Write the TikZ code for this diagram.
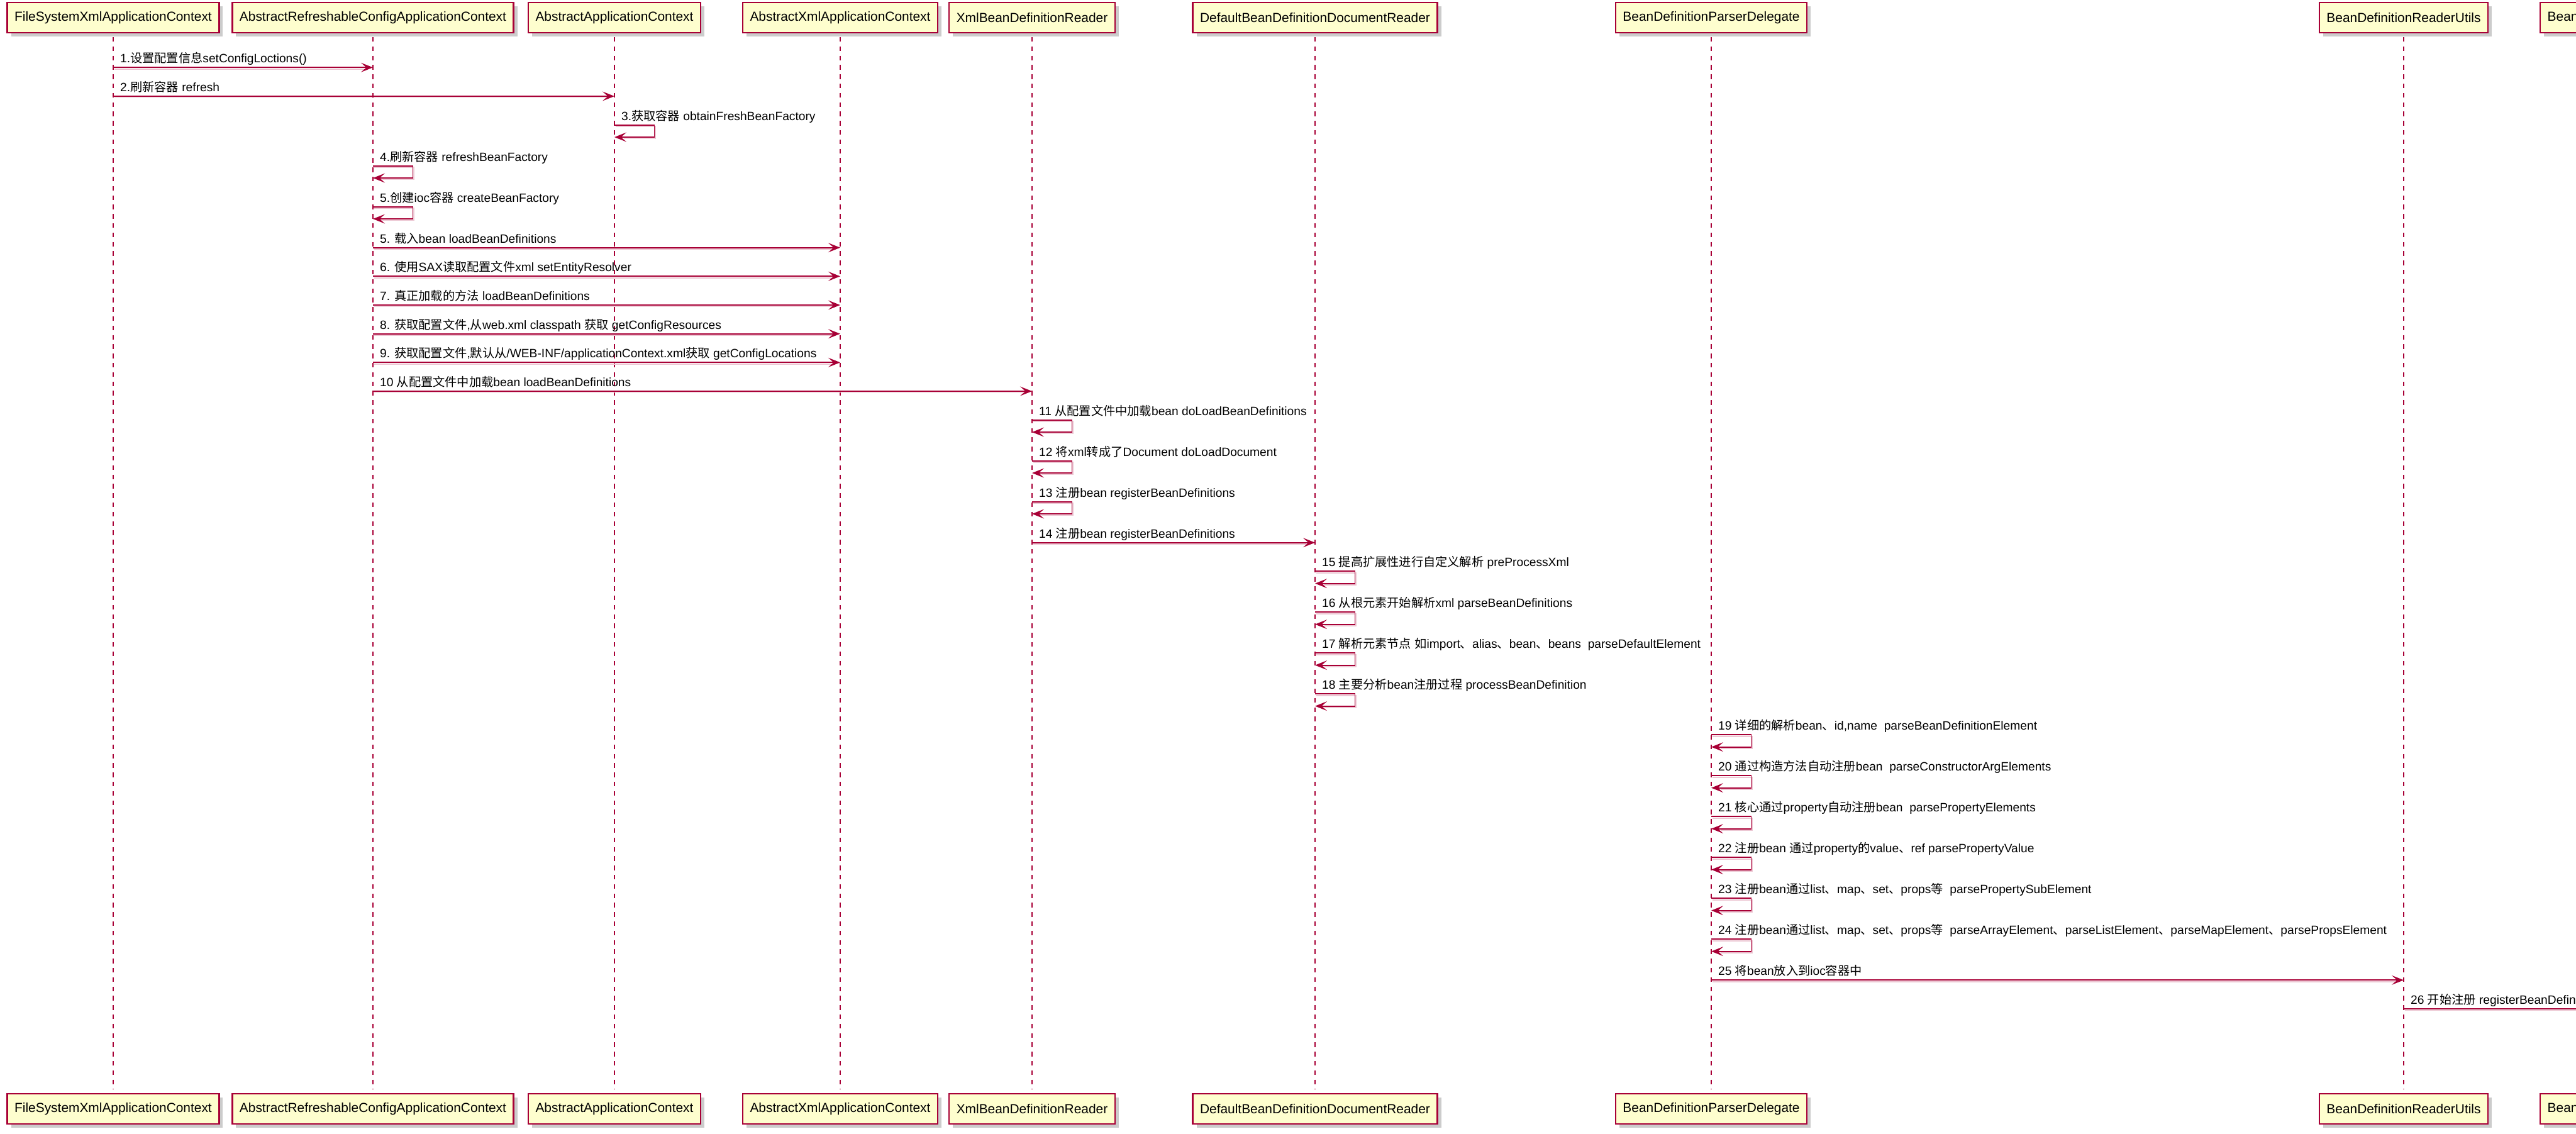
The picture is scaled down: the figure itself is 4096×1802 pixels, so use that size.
\documentclass[tikz,border=0pt]{standalone}
\usepackage{fontspec}
\setmainfont{Liberation Sans}
\newfontfamily\cjk{Noto Sans CJK SC}
\usetikzlibrary{arrows.meta,shadows}
\makeatletter
\newXeTeXintercharclass\mycjkclass
\count@="3000
\loop
  \XeTeXcharclass\count@=\mycjkclass
  \ifnum\count@<"9FFF \advance\count@\@ne
\repeat
\count@="FF00
\loop
  \XeTeXcharclass\count@=\mycjkclass
  \ifnum\count@<"FFEF \advance\count@\@ne
\repeat
\XeTeXinterchartoks 0 \mycjkclass={\cjk}
\XeTeXinterchartoks \e@alloc@intercharclass@top \mycjkclass={\cjk}
\XeTeXinterchartoks \mycjkclass 0={\normalfont}
\XeTeXinterchartoks \mycjkclass \e@alloc@intercharclass@top={\normalfont}
\makeatother
\XeTeXinterchartokenstate=1
\definecolor{pu}{HTML}{A80036}
\definecolor{pbox}{HTML}{FEFECE}
\tikzset{
  part/.style={draw=pu, fill=pbox, line width=2.4pt, minimum height=48pt,
    inner xsep=11.5pt, inner ysep=0pt, font=\fontsize{20.9}{24}\selectfont,
    drop shadow={shadow xshift=6pt, shadow yshift=-6pt, fill=black, opacity=0.2}},
  life/.style={draw=pu, line width=1.7pt, dash pattern=on 7.4pt off 7.4pt},
  msg/.style={draw=pu, line width=1.9pt, -{Stealth[length=19pt,width=15pt,inset=8.5pt]}},
  msgshadow/.style={draw=pu!22, line width=1.5pt},
  lbl/.style={anchor=base west, inner sep=0pt, font=\fontsize{19.2}{23}\selectfont},
}
\newcommand\strmsg[5]{% name, from, to, y, label
  \draw[msgshadow] ([shift={(1.5,2.5)}]#2 |- 0,#4) -- ([shift={(-14,2.5)}]#3 |- 0,#4);
  \draw[msg] (#2 |- 0,#4) -- (#3 |- 0,#4);
  \path (#2 |- 0,#4) ++(11,-7.5) node[lbl] (#1) {#5};
}
\newcommand\loopmsg[4]{% name, lifeline, ytop, label
  \draw[msgshadow] ([shift={(1.5,2.5)}]#2 |- 0,#3) -- ++(63.5,0) -- ++(0,19.33) -- ++(-50,0);
  \draw[msg] (#2 |- 0,#3) -- ++(63.5,0) -- ++(0,19.33) -- ++(-63.5,0);
  \path (#2 |- 0,#3) ++(11,-7.5) node[lbl] (#1) {#4};
}
\begin{document}
\begin{tikzpicture}[x=1pt,y=-1pt]
\useasboundingbox (0,0) rectangle (4096,1802);
\clip (0,0) rectangle (4096,1802);
\fill[white] (0,0) rectangle (4096,1802);
% participants
\foreach \n/\x in {1/180,2/593,3/977,4/1336,5/1641,6/2091,7/2721,8/3822}{
  \coordinate (c\n t) at (\x,28);
  \coordinate (c\n b) at (\x,1763);
}
\foreach \n/\t in {1/FileSystemXmlApplicationContext,
  2/AbstractRefreshableConfigApplicationContext,
  3/AbstractApplicationContext,
  4/AbstractXmlApplicationContext,
  5/XmlBeanDefinitionReader,
  6/DefaultBeanDefinitionDocumentReader,
  7/BeanDefinitionParserDelegate,
  8/BeanDefinitionReaderUtils}{
  \draw[life] (c\n t |- 0,59) -- (c\n b |- 0,1732);
  \node[part] (p\n t) at (c\n t) {\t};
  \node[part] (p\n b) at (c\n b) {\t};
}
\node[part, anchor=west] (p9t) at (4038,28) {BeanDefinitionRegistry};
\node[part, anchor=west] (p9b) at (4038,1763) {BeanDefinitionRegistry};
\draw[life] (p9t |- 0,59) -- (p9b |- 0,1732);
% messages
\strmsg{m1}{p1t}{p2t}{107.3}{1.设置配置信息setConfigLoctions()}
\strmsg{m2}{p1t}{p3t}{153.0}{2.刷新容器 refresh}
\loopmsg{m3}{p3t}{198.7}{3.获取容器 obtainFreshBeanFactory}
\loopmsg{m4}{p2t}{263.7}{4.刷新容器 refreshBeanFactory}
\loopmsg{m5}{p2t}{328.7}{5.创建ioc容器 createBeanFactory}
\strmsg{m5b}{p2t}{p4t}{393.7}{5. 载入bean loadBeanDefinitions}
\strmsg{m6}{p2t}{p4t}{439.3}{6. 使用SAX读取配置文件xml setEntityResolver}
\strmsg{m7}{p2t}{p4t}{485.0}{7. 真正加载的方法 loadBeanDefinitions}
\strmsg{m8}{p2t}{p4t}{530.7}{8. 获取配置文件,从web.xml classpath 获取 getConfigResources}
\strmsg{m9}{p2t}{p4t}{576.3}{9. 获取配置文件,默认从/WEB-INF/applicationContext.xml获取 getConfigLocations}
\strmsg{m10}{p2t}{p5t}{622.0}{10 从配置文件中加载bean loadBeanDefinitions}
\loopmsg{m11}{p5t}{667.7}{11 从配置文件中加载bean doLoadBeanDefinitions}
\loopmsg{m12}{p5t}{732.7}{12 将xml转成了Document doLoadDocument}
\loopmsg{m13}{p5t}{797.7}{13 注册bean registerBeanDefinitions}
\strmsg{m14}{p5t}{p6t}{862.7}{14 注册bean registerBeanDefinitions}
\loopmsg{m15}{p6t}{908.3}{15 提高扩展性进行自定义解析 preProcessXml}
\loopmsg{m16}{p6t}{973.3}{16 从根元素开始解析xml parseBeanDefinitions}
\loopmsg{m17}{p6t}{1038.3}{17 解析元素节点 如import、alias、bean、beans\ \ parseDefaultElement}
\loopmsg{m18}{p6t}{1103.3}{18 主要分析bean注册过程 processBeanDefinition}
\loopmsg{m19}{p7t}{1168.3}{19 详细的解析bean、id,name\ \ parseBeanDefinitionElement}
\loopmsg{m20}{p7t}{1233.3}{20 通过构造方法自动注册bean\ \ parseConstructorArgElements}
\loopmsg{m21}{p7t}{1298.3}{21 核心通过property自动注册bean\ \ parsePropertyElements}
\loopmsg{m22}{p7t}{1363.3}{22 注册bean 通过property的value、ref parsePropertyValue}
\loopmsg{m23}{p7t}{1428.3}{23 注册bean通过list、map、set、props等\ \ parsePropertySubElement}
\loopmsg{m24}{p7t}{1493.3}{24 注册bean通过list、map、set、props等\ \ parseArrayElement、parseListElement、parseMapElement、parsePropsElement}
\strmsg{m25}{p7t}{p8t}{1558.3}{25 将bean放入到ioc容器中}
\strmsg{m26}{p8t}{p9t}{1604.0}{26 开始注册 registerBeanDefinition}
\end{tikzpicture}
\end{document}
